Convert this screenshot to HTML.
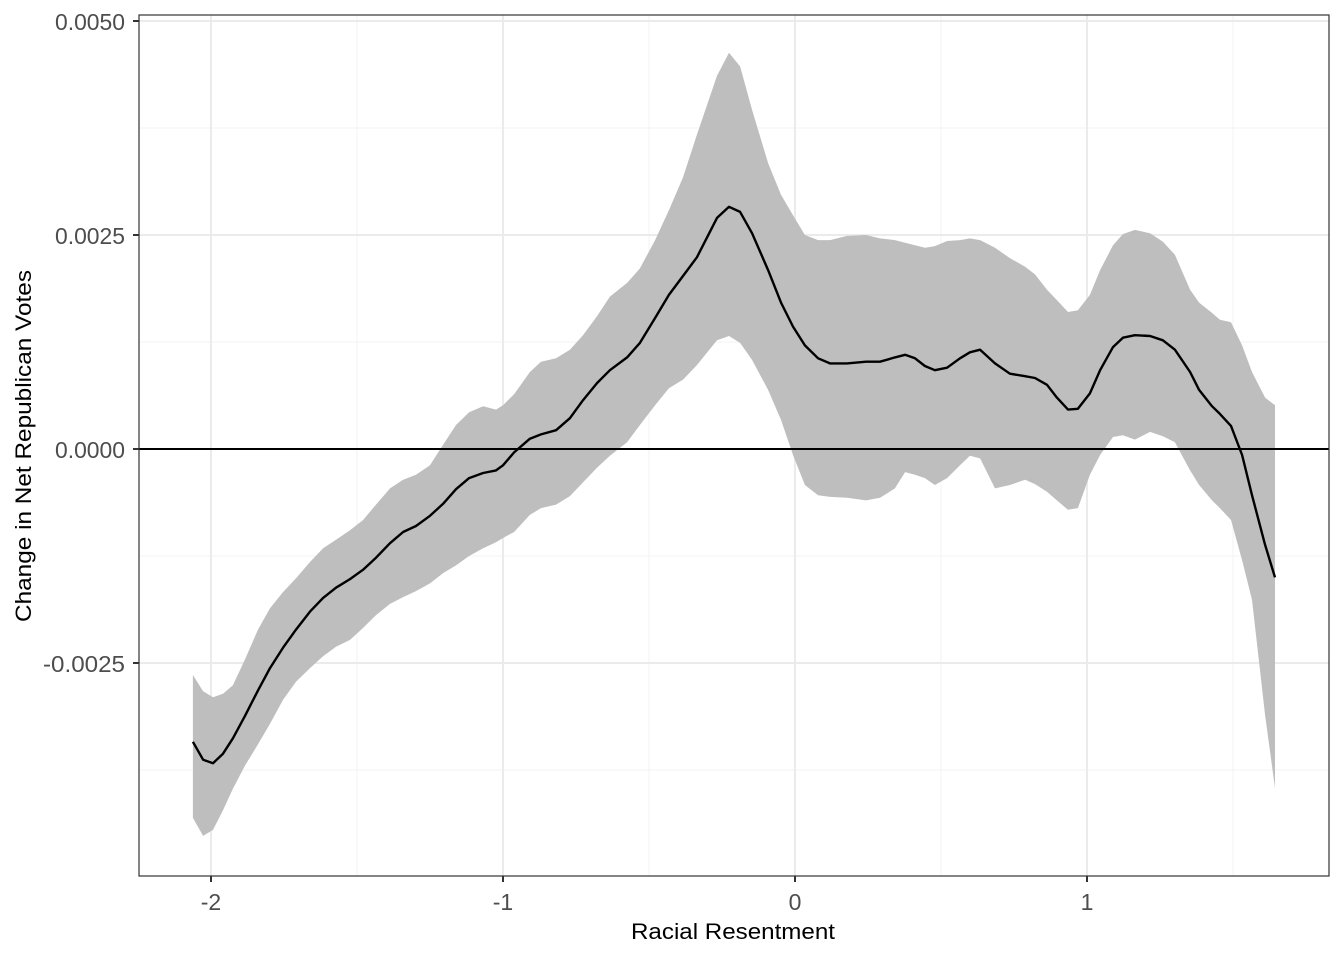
<!DOCTYPE html>
<html><head><meta charset="utf-8">
<style>
html,body{margin:0;padding:0;background:#fff;}
svg{display:block;font-family:"Liberation Sans",sans-serif;}
</style></head>
<body>
<svg id="chart" width="1344" height="960" viewBox="0 0 1344 960" xmlns="http://www.w3.org/2000/svg">
<rect x="0" y="0" width="1344" height="960" fill="#fff"/>
<g id="grid"></g>
<g id="marks"></g>
<g id="axes"></g>
<text x="733" y="939" text-anchor="middle" font-size="22" textLength="204" lengthAdjust="spacingAndGlyphs" fill="#000">Racial Resentment</text>
<text transform="translate(31,446) rotate(-90)" text-anchor="middle" font-size="22" textLength="352" lengthAdjust="spacingAndGlyphs" fill="#000">Change in Net Republican Votes</text>
</svg>
<script>
const xValues=[-2.062,-2.027,-1.993,-1.959,-1.925,-1.884,-1.839,-1.798,-1.753,-1.709,-1.661,-1.616,-1.572,-1.524,-1.479,-1.435,-1.387,-1.342,-1.298,-1.250,-1.205,-1.161,-1.116,-1.068,-1.024,-1.0,-0.962,-0.908,-0.870,-0.818,-0.771,-0.726,-0.678,-0.634,-0.575,-0.531,-0.479,-0.432,-0.384,-0.336,-0.267,-0.226,-0.188,-0.147,-0.092,-0.048,-0.007,0.034,0.079,0.120,0.178,0.243,0.291,0.342,0.377,0.411,0.445,0.479,0.521,0.565,0.599,0.634,0.685,0.736,0.788,0.822,0.863,0.897,0.935,0.969,1.010,1.045,1.089,1.123,1.164,1.216,1.260,1.301,1.353,1.384,1.428,1.455,1.493,1.531,1.565,1.610,1.644];
const estimate=[-0.00342,-0.00363,-0.00367,-0.00356,-0.00338,-0.00312,-0.00282,-0.00256,-0.00232,-0.00211,-0.00190,-0.00174,-0.00162,-0.00152,-0.00141,-0.00127,-0.00110,-0.00097,-0.00090,-0.00078,-0.00064,-0.00047,-0.00034,-0.00028,-0.00025,-0.00019,-0.00004,0.00012,0.00017,0.00022,0.00036,0.00057,0.00077,0.00092,0.00107,0.00124,0.00153,0.00180,0.00202,0.00224,0.00270,0.00283,0.00277,0.00252,0.00209,0.00171,0.00143,0.00121,0.00106,0.00100,0.00100,0.00102,0.00102,0.00107,0.00110,0.00106,0.00097,0.00092,0.00095,0.00106,0.00113,0.00116,0.00100,0.00088,0.00085,0.00083,0.00075,0.00060,0.00046,0.00047,0.00065,0.00092,0.00119,0.00130,0.00133,0.00132,0.00127,0.00116,0.00090,0.00069,0.00050,0.00041,0.00027,-0.00007,-0.00054,-0.00112,-0.00150];
const upper=[-0.00264,-0.00283,-0.00290,-0.00286,-0.00276,-0.00246,-0.00211,-0.00186,-0.00167,-0.00151,-0.00132,-0.00116,-0.00106,-0.00095,-0.00083,-0.00065,-0.00046,-0.00036,-0.00030,-0.00019,0.00005,0.00028,0.00043,0.00050,0.00046,0.00051,0.00064,0.00090,0.00102,0.00106,0.00116,0.00133,0.00155,0.00178,0.00194,0.00211,0.00244,0.00279,0.00317,0.00367,0.00436,0.00463,0.00447,0.00396,0.00334,0.00297,0.00273,0.00250,0.00244,0.00244,0.00249,0.00250,0.00246,0.00244,0.00241,0.00238,0.00235,0.00237,0.00243,0.00244,0.00246,0.00244,0.00235,0.00223,0.00213,0.00204,0.00186,0.00174,0.00160,0.00162,0.00180,0.00209,0.00238,0.00251,0.00256,0.00252,0.00242,0.00227,0.00186,0.00171,0.00159,0.00151,0.00148,0.00121,0.00090,0.00060,0.00051];
const lower=[-0.00431,-0.00452,-0.00445,-0.00422,-0.00397,-0.00370,-0.00345,-0.00321,-0.00293,-0.00272,-0.00256,-0.00242,-0.00231,-0.00223,-0.00209,-0.00194,-0.00181,-0.00173,-0.00166,-0.00157,-0.00145,-0.00136,-0.00125,-0.00116,-0.00109,-0.00104,-0.00097,-0.00077,-0.00069,-0.00065,-0.00055,-0.00039,-0.00022,-0.00008,0.00008,0.00028,0.00051,0.00071,0.00081,0.00098,0.00127,0.00132,0.00124,0.00104,0.00069,0.00034,-0.00007,-0.00042,-0.00054,-0.00056,-0.00057,-0.00060,-0.00057,-0.00046,-0.00027,-0.00030,-0.00034,-0.00042,-0.00034,-0.00019,-0.00008,-0.00011,-0.00046,-0.00042,-0.00036,-0.00041,-0.00050,-0.00060,-0.00071,-0.00069,-0.00030,-0.00007,0.00014,0.00016,0.00011,0.00020,0.00015,0.00008,-0.00025,-0.00042,-0.00060,-0.00069,-0.00083,-0.00130,-0.00176,-0.00311,-0.00396];
const xTicks=[-2,-1,0,1];
const xTickLabels=["-2","-1","0","1"];
const xMinor=[-1.5,-0.5,0.5,1.5];
const yTicks=[0.005,0.0025,0,-0.0025];
const yTickLabels=["0.0050","0.0025","0.0000","-0.0025"];
const yMinor=[0.00375,0.00125,-0.00125,-0.00375];

const P={l:139,r:1329,t:15,b:876};
function sx(v){return 795+v*292;}
function sy(v){return 449-v/0.0025*214;}
const NS="http://www.w3.org/2000/svg";
function mk(tag,attrs,parent){const e=document.createElementNS(NS,tag);for(const k in attrs)e.setAttribute(k,attrs[k]);parent.appendChild(e);return e;}
const grid=document.getElementById('grid'),marks=document.getElementById('marks'),axes=document.getElementById('axes');
mk('rect',{x:P.l,y:P.t,width:P.r-P.l,height:P.b-P.t,fill:'#fff'},grid);
xMinor.forEach(v=>{const e=mk('line',{x1:sx(v),x2:sx(v),y1:P.t,y2:P.b,stroke:'#f3f3f3','stroke-width':1},grid);

});
yMinor.forEach(v=>{const e=mk('line',{x1:P.l,x2:P.r,y1:sy(v),y2:sy(v),stroke:'#f3f3f3','stroke-width':1},grid);

});
xTicks.forEach(v=>{const e=mk('line',{x1:sx(v),x2:sx(v),y1:P.t,y2:P.b,stroke:'#ebebeb','stroke-width':2},grid);

});
yTicks.forEach(v=>{const e=mk('line',{x1:P.l,x2:P.r,y1:sy(v),y2:sy(v),stroke:'#ebebeb','stroke-width':2},grid);

});

let d='';
xValues.forEach((x,i)=>{d+=(i?'L':'M')+sx(x).toFixed(1)+','+sy(upper[i]).toFixed(1);});
for(let i=xValues.length-1;i>=0;i--){d+='L'+sx(xValues[i]).toFixed(1)+','+sy(lower[i]).toFixed(1);}
d+='Z';
const band=mk('path',{d:d,fill:'#bebebe',stroke:'none'},marks);


const zl=mk('line',{x1:P.l,x2:P.r,y1:sy(0),y2:sy(0),stroke:'#000','stroke-width':2},marks);


let ld='';
xValues.forEach((x,i)=>{ld+=(i?'L':'M')+sx(x).toFixed(1)+','+sy(estimate[i]).toFixed(1);});
const ln=mk('path',{d:ld,fill:'none',stroke:'#000','stroke-width':2.4,'stroke-linejoin':'round'},marks);



const border=mk('rect',{x:P.l,y:P.t,width:P.r-P.l,height:P.b-P.t,fill:'none',stroke:'#333','stroke-width':1.2},axes);


xTicks.forEach((v,i)=>{
const t=mk('line',{x1:sx(v),x2:sx(v),y1:P.b,y2:P.b+6,stroke:'#333','stroke-width':2},axes);


const lb=mk('text',{x:sx(v),y:P.b+34,'text-anchor':'middle','font-size':23,fill:'#4d4d4d'},axes);
lb.textContent=xTickLabels[i];

});
yTicks.forEach((v,i)=>{
const t=mk('line',{x1:P.l-6,x2:P.l,y1:sy(v),y2:sy(v),stroke:'#333','stroke-width':2},axes);


const w=yTickLabels[i].length>6?82:70;
const lb=mk('text',{x:P.l-14,y:sy(v)+9,'text-anchor':'end','font-size':23,fill:'#4d4d4d',textLength:w,lengthAdjust:'spacingAndGlyphs'},axes);
lb.textContent=yTickLabels[i];

});
</script>
</body></html>
